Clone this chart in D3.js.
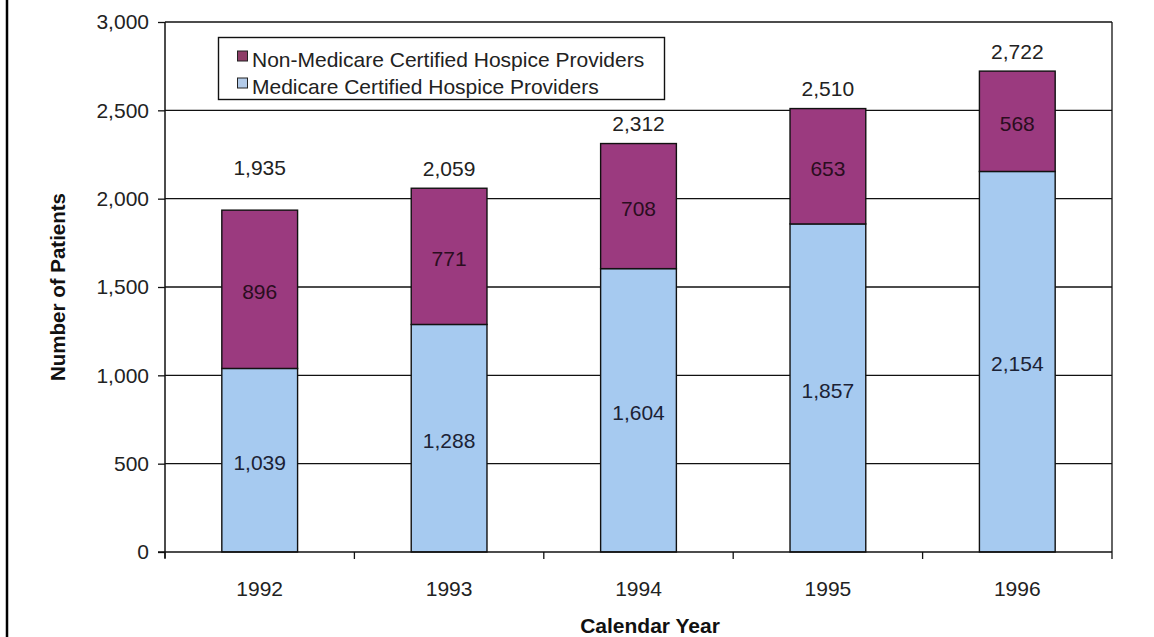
<!DOCTYPE html>
<html>
<head>
<meta charset="utf-8">
<script src="https://cdn.jsdelivr.net/npm/d3@7"></script>
<style>
  html, body { margin: 0; padding: 0; background: #fff; }
  svg { display: block; font-family: "Liberation Sans", Arial, sans-serif; }
</style>
</head>
<body>
<svg id="chart" width="1154" height="637"></svg>
<script>
// Hospice patients by calendar year, split by provider certification
const years = ["1992", "1993", "1994", "1995", "1996"];
const medicare = [1039, 1288, 1604, 1857, 2154];
const nonMedicare = [896, 771, 708, 653, 568];
const totals = [1935, 2059, 2312, 2510, 2722];
const yTicks = [0, 500, 1000, 1500, 2000, 2500, 3000];
const seriesNames = ["Non-Medicare Certified Hospice Providers", "Medicare Certified Hospice Providers"];

const colors = { medicare: "#a6caf0", nonMedicare: "#9b3a7f" };
const legendColors = { medicare: "#b3cbe9", nonMedicare: "#8e3d67" };

const svg = d3.select("#chart");
const W = 1154, H = 637;
const plot = { left: 165, right: 1112, top: 22, bottom: 552 };

// left frame edge
svg.append("line")
  .attr("x1", 7).attr("x2", 7).attr("y1", 0).attr("y2", H)
  .attr("stroke", "#000").attr("stroke-width", 2.5);

const x = d3.scaleBand()
  .domain(years)
  .range([plot.left, plot.right])
  .paddingInner(0.6)
  .paddingOuter(0.3);

const y = d3.scaleLinear()
  .domain([0, 3000])
  .range([plot.bottom, plot.top]);

// gridlines
svg.append("g")
  .selectAll("line")
  .data(yTicks.filter(t => t > 0))
  .join("line")
  .attr("x1", plot.left).attr("x2", plot.right)
  .attr("y1", d => y(d)).attr("y2", d => y(d))
  .attr("stroke", "#111").attr("stroke-width", 1.3);

// right border of plot
svg.append("line")
  .attr("x1", plot.right).attr("x2", plot.right)
  .attr("y1", plot.top).attr("y2", plot.bottom)
  .attr("stroke", "#111").attr("stroke-width", 1.3);

// stacked bars
const rows = years.map((yr, i) => ({ year: yr, medicare: medicare[i], nonMedicare: nonMedicare[i], total: totals[i] }));
const stack = d3.stack().keys(["medicare", "nonMedicare"])(rows);

const layers = svg.append("g").selectAll("g")
  .data(stack)
  .join("g")
  .attr("fill", d => colors[d.key]);

layers.selectAll("rect")
  .data(d => d)
  .join("rect")
  .attr("x", d => x(d.data.year))
  .attr("width", x.bandwidth())
  .attr("y", d => y(d[1]))
  .attr("height", d => y(d[0]) - y(d[1]))
  .attr("stroke", "#111")
  .attr("stroke-width", 1.4);

// segment labels
const fmt = d3.format(",");
const labelSize = 21;
stack.forEach(layer => {
  svg.append("g").selectAll("text")
    .data(layer)
    .join("text")
    .attr("x", d => x(d.data.year) + x.bandwidth() / 2)
    .attr("y", d => y((d[0] + d[1]) / 2) + 4)
    .attr("text-anchor", "middle")
    .attr("dominant-baseline", "middle")
    .attr("font-size", labelSize)
    .attr("fill", layer.key === "medicare" ? "#1b2235" : "#2a0d20")
    .text(d => fmt(d.data[layer.key]));
});

// total labels above each bar (the first is lifted clear of the bar)
const totalLift = { "1992": 41 };
svg.append("g").selectAll("text")
  .data(rows)
  .join("text")
  .attr("x", d => x(d.year) + x.bandwidth() / 2)
  .attr("y", d => y(d.total) - (totalLift[d.year] || 18))
  .attr("text-anchor", "middle")
  .attr("dominant-baseline", "middle")
  .attr("font-size", labelSize)
  .attr("fill", "#222")
  .text(d => fmt(d.total));

// y axis
const yAxis = svg.append("g")
  .attr("transform", `translate(${plot.left},0)`)
  .call(d3.axisLeft(y).tickValues(yTicks).tickFormat(fmt).tickSize(7).tickPadding(9));
yAxis.select(".domain").attr("stroke", "#111").attr("stroke-width", 1.5)
  .attr("d", `M0,${plot.top}V${plot.bottom + 6}`);
yAxis.selectAll(".tick line").attr("stroke", "#111").attr("stroke-width", 1.3);
yAxis.selectAll(".tick text")
  .attr("font-size", labelSize)
  .attr("font-family", "Liberation Sans, Arial, sans-serif")
  .attr("fill", "#222");

// x axis with ticks on category boundaries
const xAxisG = svg.append("g");
xAxisG.append("line")
  .attr("x1", plot.left - 7).attr("x2", plot.right)
  .attr("y1", plot.bottom).attr("y2", plot.bottom)
  .attr("stroke", "#111").attr("stroke-width", 1.5);
const step = x.step();
xAxisG.selectAll("line.bound")
  .data(d3.range(years.length + 1))
  .join("line")
  .attr("class", "bound")
  .attr("x1", i => plot.left + i * step).attr("x2", i => plot.left + i * step)
  .attr("y1", plot.bottom).attr("y2", plot.bottom + 7)
  .attr("stroke", "#111").attr("stroke-width", 1.3);
xAxisG.selectAll("text")
  .data(years)
  .join("text")
  .attr("x", d => x(d) + x.bandwidth() / 2)
  .attr("y", 590)
  .attr("text-anchor", "middle")
  .attr("dominant-baseline", "middle")
  .attr("font-size", labelSize)
  .attr("fill", "#222")
  .text(d => d);

// axis titles
svg.append("text")
  .attr("x", 650).attr("y", 627)
  .attr("text-anchor", "middle")
  .attr("dominant-baseline", "middle")
  .attr("font-size", 21)
  .attr("font-weight", "bold")
  .attr("fill", "#111")
  .text("Calendar Year");

svg.append("text")
  .attr("transform", "translate(60,287) rotate(-90)")
  .attr("text-anchor", "middle")
  .attr("dominant-baseline", "middle")
  .attr("font-size", 20.5)
  .attr("font-weight", "bold")
  .attr("fill", "#111")
  .text("Number of Patients");

// legend
const legend = svg.append("g");
legend.append("rect")
  .attr("x", 218.5).attr("y", 37.5).attr("width", 446).attr("height", 62)
  .attr("fill", "#fff").attr("stroke", "#111").attr("stroke-width", 1.4);
const legendKeys = ["nonMedicare", "medicare"];
legendKeys.forEach((k, i) => {
  const cy = 58 + i * 27;
  legend.append("rect")
    .attr("x", 237.5).attr("y", cy - 7).attr("width", 10).attr("height", 10)
    .attr("fill", legendColors[k]).attr("stroke", "#222").attr("stroke-width", 1);
  legend.append("text")
    .attr("x", 252).attr("y", cy + 3)
    .attr("dominant-baseline", "middle")
    .attr("font-size", labelSize)
    .attr("fill", "#222")
    .text(seriesNames[i]);
});
</script>
</body>
</html>
